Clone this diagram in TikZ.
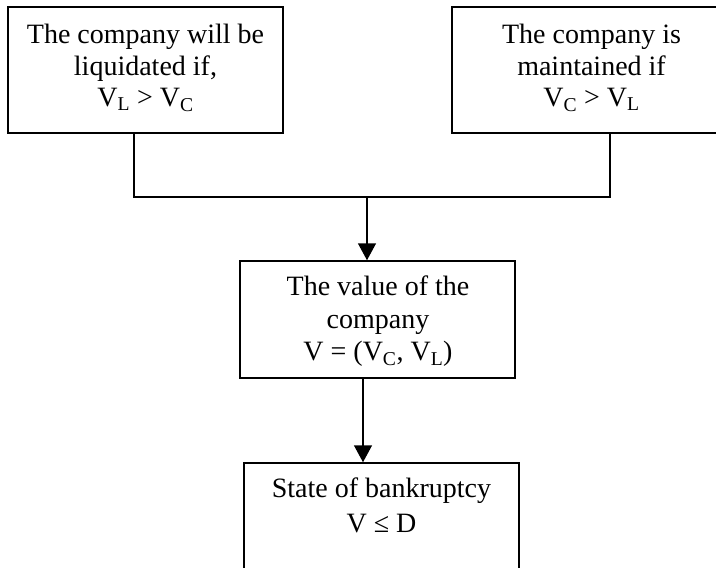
\documentclass[tikz,border=0pt]{standalone}
\usepackage{fontspec}
\setmainfont{Liberation Serif}
\usetikzlibrary{arrows.meta}
\begin{document}
\begin{tikzpicture}[x=1pt,y=-1pt,
  box/.style={draw, line width=1.5pt, inner sep=0pt},
  txt/.style={anchor=north, align=center, inner sep=0pt, font=\fontsize{28}{31.5}\selectfont},
  wire/.style={line width=1.5pt},
  arr/.style={line width=1.5pt, -{Triangle[length=17pt,width=18pt]}}]
\useasboundingbox (0,0) rectangle (716,568);
\clip (0,0) rectangle (716,568);
\fill[white] (0,0) rectangle (716,568);
% boxes
\node[box, minimum width=275pt, minimum height=126pt] (L) at (145.5,70) {};
\node[box, minimum width=278pt, minimum height=126pt] (R) at (591,70) {};
\node[box, minimum width=275pt, minimum height=117pt] (M) at (377.5,319.5) {};
\node[box, minimum width=275pt, minimum height=126pt] (B) at (381.5,526) {};
% texts
\node[txt] (Lt) at (145.5,24) {The company will be\\ liquidated if,\\ V\textsubscript{L} > V\textsubscript{C}};
\node[txt] (Rt) at (591.5,24) {The company is\\ maintained if\\ V\textsubscript{C} > V\textsubscript{L}};
\node[txt, font=\fontsize{28}{32.5}\selectfont] (Mt) at (378,276) {The value of the\\ company\\ V = (V\textsubscript{C}, V\textsubscript{L})};
\node[txt] (Bt) at (381.5,478) {State of bankruptcy\\[3pt] V ≤ D};
% connectors
\coordinate (j) at (367,197);
\draw[wire] ([xshift=-11.5pt]L.south) |- (j);
\draw[wire] ([xshift=19pt]R.south) |- (j);
\draw[arr] (j) -- (j |- M.north);
\draw[arr] ([xshift=-14.5pt]M.south) -- ([xshift=-14.5pt]M.south |- B.north);
\end{tikzpicture}
\end{document}
